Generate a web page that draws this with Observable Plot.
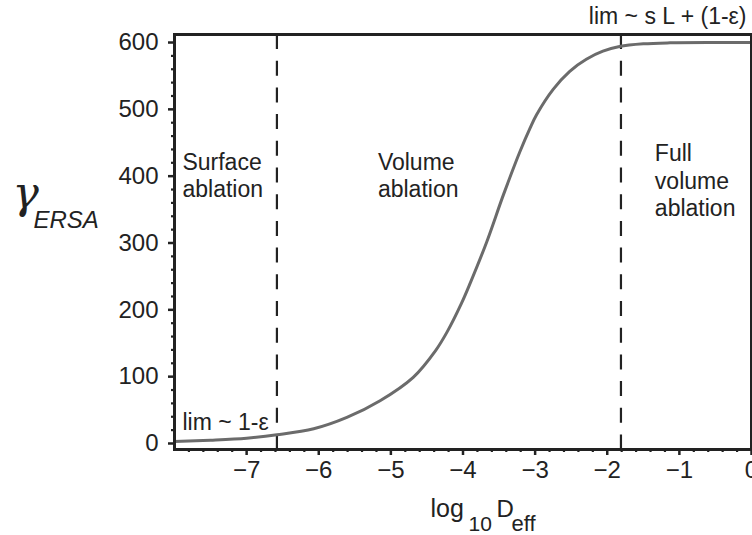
<!DOCTYPE html>
<html>
<head>
<meta charset="utf-8">
<script src="https://cdn.jsdelivr.net/npm/d3@7"></script>
<script src="https://cdn.jsdelivr.net/npm/@observablehq/plot@0.6"></script>
<style>
  html, body { margin: 0; padding: 0; background: #fff; }
  #chart { width: 752px; height: 535px; }
</style>
</head>
<body>
<div id="chart"></div>
<script>
// Curve samples: log10 D_eff vs gamma_ERSA
const logD = [-8, -7.5, -7, -6.58, -6.07, -5.61, -5.15, -4.69, -4.38, -4.22, -4.02, -3.9, -3.67, -3.44, -3.21, -3.07, -2.98, -2.75, -2.52, -2.29, -2.06, -1.83, -1.5, -1.13, -0.5, 0];
const gamma = [3, 5, 8, 13, 22, 39, 64, 99, 139, 167, 210, 240, 302, 372, 437, 472, 492, 530, 557, 575, 587, 594, 598, 599.5, 600, 600];
// Regime boundaries (dashed lines)
const boundaries = [-6.58, -1.81];
// Tick values
const xMajor = [-7, -6, -5, -4, -3, -2, -1, 0];
const yMajor = [0, 100, 200, 300, 400, 500, 600];
// Annotations
const regionLabels = ["Surface\nablation", "Volume\nablation", "Full\nvolume\nablation"];
const regionX = [-7.89, -5.18, -1.34];
const regionY = [439, 439, 452];
const limLow = "lim ~ 1-ε";
const limHigh = "lim ~ s L + (1-ε)";

const curve = logD.map((x, i) => ({x, y: gamma[i]}));
const regions = regionLabels.map((t, i) => ({t, x: regionX[i], y: regionY[i]}));
const xMinor = d3.range(-7.8, 0, 0.2).filter(v => Math.abs(v - Math.round(v)) > 1e-6);
const yMinor = d3.range(20, 600, 20).filter(v => v % 100 !== 0);

const W = 752, H = 535, ML = 174, MR = 1, MT = 34, MB = 86;
const ink = "#222";

const plot = Plot.plot({
  width: W, height: H,
  marginLeft: ML, marginRight: MR, marginTop: MT, marginBottom: MB,
  style: {fontFamily: "'Liberation Sans', Arial, sans-serif", fontSize: "24px", color: ink, background: "#fff"},
  x: {domain: [-8, 0], label: null},
  y: {domain: [-9, 612], label: null},
  marks: [
    // minor ticks
    Plot.axisX(xMinor, {tickSize: 3, tickFormat: () => "", label: null, strokeWidth: 2.2}),
    Plot.axisY(yMinor, {tickSize: 3, tickFormat: () => "", label: null, strokeWidth: 2.2}),
    // major ticks
    Plot.axisX(xMajor, {tickSize: 6, tickPadding: 5, label: null, strokeWidth: 2.5}),
    Plot.axisY(yMajor, {tickSize: 6, tickPadding: 10, label: null, strokeWidth: 2.5}),
    // boundaries
    Plot.ruleX(boundaries, {stroke: ink, strokeWidth: 2.2, strokeDasharray: "15,11.7"}),
    // curve
    Plot.line(curve, {x: "x", y: "y", stroke: "#6b6b6b", strokeWidth: 3, curve: "catmull-rom"}),
    // region labels
    Plot.text(regions, {x: "x", y: "y", text: "t", textAnchor: "start", lineAnchor: "top", fontSize: 23, lineHeight: 1.2, fill: ink}),
    Plot.text([limLow], {x: -7.89, y: 19.5, text: d => d, textAnchor: "start", lineAnchor: "bottom", fontSize: 23, fill: ink}),
    Plot.text([limHigh], {frameAnchor: "top-right", dx: -5, dy: -11, text: d => d, textAnchor: "end", lineAnchor: "bottom", fontSize: 23, fill: ink}),
    // axis titles
    Plot.text(["γ"], {frameAnchor: "left", dx: 12 - ML, dy: -34, text: d => d, textAnchor: "start", lineAnchor: "bottom", fontSize: 44, fontStyle: "italic", fontFamily: "'DejaVu Serif', 'Liberation Serif', serif", fill: ink}),
    Plot.text(["ERSA"], {frameAnchor: "left", dx: 33 - ML, dy: -14, text: d => d, textAnchor: "start", lineAnchor: "bottom", fontSize: 24, fontStyle: "italic", fill: ink}),
    Plot.text(["log"], {frameAnchor: "bottom-left", dx: 430 - ML, dy: 516 - (H - MB), text: d => d, textAnchor: "start", lineAnchor: "bottom", fontSize: 25, fill: ink}),
    Plot.text(["10"], {frameAnchor: "bottom-left", dx: 468 - ML, dy: 530 - (H - MB), text: d => d, textAnchor: "start", lineAnchor: "bottom", fontSize: 21, fill: ink}),
    Plot.text(["D"], {frameAnchor: "bottom-left", dx: 496 - ML, dy: 516 - (H - MB), text: d => d, textAnchor: "start", lineAnchor: "bottom", fontSize: 24, fill: ink}),
    Plot.text(["eff"], {frameAnchor: "bottom-left", dx: 511 - ML, dy: 530 - (H - MB), text: d => d, textAnchor: "start", lineAnchor: "bottom", fontSize: 22, fill: ink}),
    Plot.frame({stroke: ink, strokeWidth: 3})
  ]
});
document.getElementById("chart").appendChild(plot);
</script>
</body>
</html>
